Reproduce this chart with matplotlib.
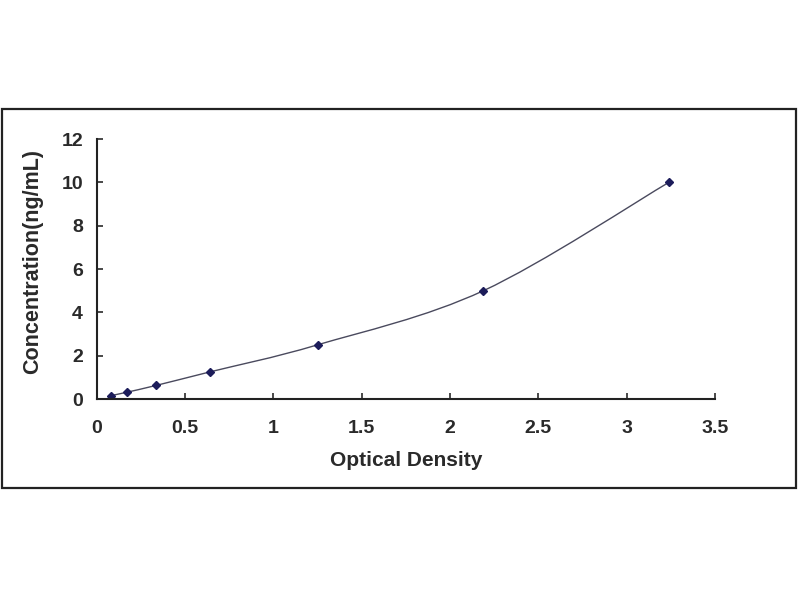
import numpy as np
import matplotlib.pyplot as plt
from matplotlib.path import Path
from matplotlib.patches import PathPatch, Rectangle

# standard curve readings
od = [0.08, 0.17, 0.335, 0.64, 1.25, 2.19, 3.24]
conc = [0.156, 0.312, 0.625, 1.25, 2.5, 5.0, 10.0]

xticks = [0, 0.5, 1, 1.5, 2, 2.5, 3, 3.5]
yticks = [0, 2, 4, 6, 8, 10, 12]

plt.rcParams['font.family'] = ['Liberation Sans', 'DejaVu Sans']
plt.rcParams['font.weight'] = 'bold'

fig = plt.figure(figsize=(8, 6), dpi=100)
# outer frame like the original picture
fig.patches.append(Rectangle((0.002, 0.187), 0.993, 0.632, transform=fig.transFigure,
                             fill=False, edgecolor='#222222', linewidth=1.6))

ax = fig.add_axes([0.121, 0.335, 0.7725, 0.4333])

# smoothed line through the points (Catmull-Rom as Bezier segments)
pts = np.column_stack([od, conc])
verts = [tuple(pts[0])]
codes = [Path.MOVETO]
n = len(pts)
for i in range(n - 1):
    p0 = pts[i - 1] if i > 0 else pts[i]
    p1 = pts[i]
    p2 = pts[i + 1]
    p3 = pts[i + 2] if i + 2 < n else pts[i + 1]
    c1 = p1 + (p2 - p0) / 6.0
    c2 = p2 - (p3 - p1) / 6.0
    verts += [tuple(c1), tuple(c2), tuple(p2)]
    codes += [Path.CURVE4] * 3
ax.add_patch(PathPatch(Path(verts, codes), fill=False, edgecolor='#4a4a5e', linewidth=1.0))

ax.plot(od, conc, linestyle='none', marker='D', markersize=4, color='#1c1c5a')

ax.set_xlim(0, 3.5)
ax.set_ylim(0, 12)
ax.set_xticks(xticks)
ax.set_xticklabels(['0', '0.5', '1', '1.5', '2', '2.5', '3', '3.5'])
ax.set_yticks(yticks)
ax.tick_params(direction='in', length=4.5, width=1.2, labelsize=14, colors='#2a2a2a')
ax.tick_params(axis='x', pad=15)
ax.tick_params(axis='y', pad=10)
for s in ['top', 'right']:
    ax.spines[s].set_visible(False)
for s in ['left', 'bottom']:
    ax.spines[s].set_linewidth(1.5)
    ax.spines[s].set_color('#222222')

ax.set_xlabel('Optical Density', fontsize=15, fontweight='bold', color='#2a2a2a', labelpad=10)
ax.set_ylabel('Concentration(ng/mL)', fontsize=15.5, fontweight='bold', color='#2a2a2a', labelpad=13)
ax.yaxis.label.set_y(0.53)

fig.savefig('out.png', dpi=100)
